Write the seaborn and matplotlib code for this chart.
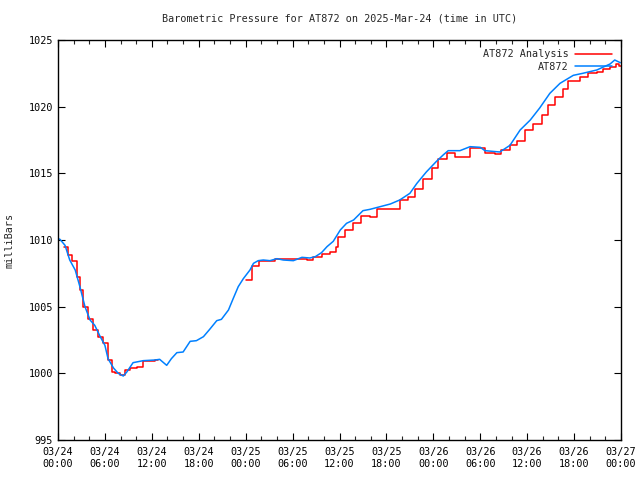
import pandas as pd
import numpy as np
import matplotlib
matplotlib.use("Agg")
import matplotlib.pyplot as plt
import matplotlib.dates as mdates
from matplotlib.lines import Line2D
import seaborn as sns

# observed pressure (AT872), hours after 2025-03-24 00:00 UTC
obs_hours = [0, 0.25, 0.9, 1.5, 2.2, 2.8, 3.45, 4.1, 4.7, 5.4, 6.0, 6.4, 7.1, 7.7,
             8.35, 8.8, 9.6, 10.9, 12.4, 13.0, 13.9, 14.5, 15.2, 16.0, 16.9, 17.7,
             18.6, 19.4, 20.3, 20.9, 21.8, 22.4, 23.05, 23.7, 24.55, 25.0, 25.6,
             26.25, 27.1, 28.0, 28.8, 30.1, 31.2, 32.2, 32.9, 33.7, 34.4, 35.2,
             36.1, 36.9, 37.8, 39.0, 39.9, 41.2, 42.5, 43.7, 45.0, 45.9, 47.1,
             48.4, 49.3, 49.9, 51.4, 52.7, 54.0, 54.6, 56.5, 57.8, 59.1, 60.4,
             61.6, 62.9, 64.2, 65.9, 67.1, 68.9, 70.6, 71.2, 71.9]
obs_mb = [1010.1, 1010.05, 1009.6, 1008.5, 1007.75, 1006.5, 1005.0, 1004.0, 1003.6,
          1002.75, 1002.1, 1001.1, 1000.4, 1000.0, 999.8, 1000.1, 1000.8, 1000.95,
          1001.0, 1001.05, 1000.6, 1001.1, 1001.55, 1001.6, 1002.4, 1002.45, 1002.75,
          1003.3, 1003.95, 1004.05, 1004.75, 1005.6, 1006.5, 1007.1, 1007.75, 1008.25,
          1008.45, 1008.5, 1008.45, 1008.6, 1008.5, 1008.45, 1008.7, 1008.65, 1008.75,
          1009.05, 1009.5, 1009.9, 1010.75, 1011.25, 1011.5, 1012.2, 1012.3, 1012.5,
          1012.7, 1013.0, 1013.5, 1014.25, 1015.1, 1015.9, 1016.4, 1016.7, 1016.7,
          1017.0, 1016.95, 1016.7, 1016.6, 1017.1, 1018.25, 1019.0, 1019.9, 1021.0,
          1021.75, 1022.35, 1022.5, 1022.75, 1023.2, 1023.5, 1023.3]

# analysis (stepped), two pieces with a gap in between
ana_hours_a = [0.8, 1.3, 1.75, 2.4, 2.8, 3.2, 3.9, 4.5, 5.15, 5.8, 6.4, 6.9, 7.3,
               7.9, 8.6, 9.2, 10.1, 10.9, 12.4, 12.8]
ana_mb_a = [1009.5, 1008.9, 1008.4, 1007.25, 1006.25, 1005.0, 1004.1, 1003.25,
            1002.75, 1002.25, 1001.0, 1000.1, 1000.0, 999.9, 1000.25, 1000.4,
            1000.5, 1000.95, 1001.0, 1001.0]
ana_hours_b = [24.0, 24.8, 25.7, 27.75, 30.5, 31.8, 32.65, 33.7, 34.8, 35.6, 35.85,
               36.7, 37.7, 38.8, 39.9, 40.8, 42.9, 43.7, 44.8, 45.65, 46.7, 47.8,
               48.6, 49.7, 50.8, 52.7, 54.6, 55.9, 56.7, 57.8, 58.7, 59.7, 60.8,
               61.85, 62.7, 63.55, 64.6, 65.25, 66.75, 67.8, 68.9, 69.7, 70.6,
               71.4, 71.8, 72.0]
ana_mb_b = [1007.0, 1008.05, 1008.4, 1008.55, 1008.6, 1008.5, 1008.75, 1008.95,
            1009.1, 1009.5, 1010.25, 1010.75, 1011.25, 1011.8, 1011.75, 1012.35,
            1012.3, 1013.0, 1013.2, 1013.8, 1014.55, 1015.4, 1016.1, 1016.5,
            1016.2, 1016.9, 1016.55, 1016.45, 1016.75, 1017.1, 1017.45, 1018.25,
            1018.7, 1019.4, 1020.1, 1020.75, 1021.3, 1021.95, 1022.2, 1022.5,
            1022.6, 1022.8, 1022.95, 1023.2, 1023.05, 1023.05]

start = pd.Timestamp("2025-03-24 00:00")

obs = pd.DataFrame({"time": start + pd.to_timedelta(obs_hours, unit="h"),
                    "mb": obs_mb})
ana = pd.DataFrame({
    "time": start + pd.to_timedelta(ana_hours_a + ana_hours_b, unit="h"),
    "mb": ana_mb_a + ana_mb_b,
    "seg": [0] * len(ana_hours_a) + [1] * len(ana_hours_b),
})

RED = "#ff0000"
BLUE = "#0080ff"

sns.set_style("ticks")
plt.rcParams["font.family"] = ["DejaVu Sans Mono"]
plt.rcParams["xtick.direction"] = "in"
plt.rcParams["ytick.direction"] = "in"
plt.rcParams["xtick.top"] = True
plt.rcParams["ytick.right"] = True

fig = plt.figure(figsize=(6.4, 4.8), dpi=100)
ax = fig.add_axes([58 / 640, 40 / 480, 563 / 640, 400 / 480])

sns.lineplot(data=ana, x="time", y="mb", units="seg", estimator=None,
             color=RED, linewidth=1.1, drawstyle="steps-post", ax=ax,
             legend=False)
sns.lineplot(data=obs, x="time", y="mb", color=BLUE, linewidth=1.1,
             ax=ax, legend=False)

ax.set_xlim(start, start + pd.Timedelta(hours=72))
ax.set_ylim(995, 1025)
ax.set_yticks(np.arange(995, 1026, 5))
ax.xaxis.set_major_locator(mdates.HourLocator(byhour=[0, 6, 12, 18]))
ax.xaxis.set_minor_locator(mdates.HourLocator(interval=2))
ax.xaxis.set_major_formatter(mdates.DateFormatter("%m/%d\n%H:%M"))
ax.tick_params(which="major", length=5, width=0.8, labelsize=7.3, colors="black")
ax.tick_params(which="minor", length=3, width=0.8)
ax.tick_params(axis="x", pad=5)

for s in ax.spines.values():
    s.set_visible(True)
    s.set_color("black")
    s.set_linewidth(1.0)

ax.set_xlabel("")
ax.set_ylabel("milliBars", fontsize=7.3, labelpad=10)
ax.set_title("Barometric Pressure for AT872 on 2025-Mar-24 (time in UTC)",
             fontsize=7.3, pad=13)

handles = [Line2D([], [], color=RED, linewidth=1.1),
           Line2D([], [], color=BLUE, linewidth=1.1)]
ax.legend(handles, ["AT872 Analysis", "AT872"], loc="upper right",
          frameon=False, markerfirst=False, fontsize=7.3, handlelength=3.6,
          borderaxespad=0.5, labelspacing=0.25, handletextpad=0.7)

fig.savefig("out.png", dpi=100)
